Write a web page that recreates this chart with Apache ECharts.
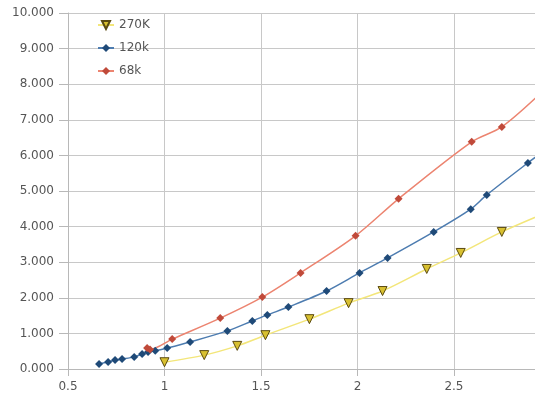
<!DOCTYPE html>
<html>
<head>
<meta charset="utf-8">
<script src="https://cdn.jsdelivr.net/npm/echarts@6/dist/echarts.min.js"></script>
<style>html,body{margin:0;padding:0;background:#fff;}#c{width:535px;height:403px;}</style>
</head>
<body>
<div id="c"></div>
<script>
var seriesNames = ['270K', '120k', '68k'];
var xTicks = [0.5, 1, 1.5, 2, 2.5];
var s270x = [1.00, 1.206, 1.377, 1.523, 1.751, 1.954, 2.130, 2.359, 2.535, 2.748, 2.96];
var s270y = [0.19, 0.39, 0.65, 0.95, 1.40, 1.85, 2.19, 2.81, 3.26, 3.85, 4.35];
var s120x = [0.661, 0.708, 0.744, 0.780, 0.843, 0.884, 0.915, 0.952, 1.014, 1.133, 1.326, 1.455, 1.533, 1.642, 1.840, 2.011, 2.156, 2.395, 2.587, 2.670, 2.883, 2.96];
var s120y = [0.14, 0.20, 0.25, 0.28, 0.34, 0.42, 0.48, 0.51, 0.59, 0.76, 1.07, 1.35, 1.52, 1.74, 2.19, 2.70, 3.12, 3.85, 4.49, 4.89, 5.79, 6.10];
var s68x = [0.910, 0.925, 1.040, 1.289, 1.507, 1.705, 1.990, 2.213, 2.592, 2.748, 2.96];
var s68y = [0.59, 0.55, 0.84, 1.43, 2.02, 2.70, 3.74, 4.78, 6.38, 6.80, 7.80];

function pairs(xs, ys) { return xs.map(function (x, i) { return [x, ys[i]]; }); }

var chart = echarts.init(document.getElementById('c'));
var txt = {color: '#555', fontSize: 12, fontFamily: 'DejaVu Sans'};
chart.setOption({
  backgroundColor: '#fff',
  animation: false,
  grid: {left: 68, right: 0, top: 13, bottom: 34, containLabel: false},
  legend: {
    orient: 'vertical', left: 92, top: 14, itemGap: 11, itemWidth: 16, itemHeight: 10,
    textStyle: {color: '#555', fontSize: 12, fontFamily: 'DejaVu Sans'},
    data: seriesNames
  },
  xAxis: {
    type: 'value', min: 0.5, max: 2.92, interval: 0.5,
    axisLine: {show: true, lineStyle: {color: '#b8b8b8'}},
    axisTick: {show: true, length: 7, lineStyle: {color: '#b8b8b8'}},
    axisLabel: Object.assign({margin: 12, showMaxLabel: false, formatter: function (v) { return String(v); }}, txt),
    splitLine: {show: true, lineStyle: {color: '#c8c8c8', width: 1}}
  },
  yAxis: {
    type: 'value', min: 0, max: 10, interval: 1,
    axisLine: {show: true, lineStyle: {color: '#b8b8b8'}},
    axisTick: {show: true, length: 9, lineStyle: {color: '#b8b8b8'}},
    axisLabel: Object.assign({margin: 14, formatter: function (v) { return v.toFixed(3); }}, txt),
    splitLine: {show: true, lineStyle: {color: '#c8c8c8', width: 1}}
  },
  series: [
    {
      name: seriesNames[0], type: 'line', smooth: 0.3, clip: true,
      symbol: 'triangle', symbolRotate: 180, symbolSize: 9,
      itemStyle: {color: '#d8c030', borderColor: '#5a4a10', borderWidth: 1},
      lineStyle: {color: '#f3e67a', width: 1.5},
      data: pairs(s270x, s270y)
    },
    {
      name: seriesNames[1], type: 'line', smooth: 0.3, clip: true,
      symbol: 'diamond', symbolSize: 8,
      itemStyle: {color: '#1f4a78'},
      lineStyle: {color: '#4d7cb0', width: 1.5},
      data: pairs(s120x, s120y)
    },
    {
      name: seriesNames[2], type: 'line', smooth: 0.3, clip: true,
      symbol: 'diamond', symbolSize: 8,
      itemStyle: {color: '#c04a3a'},
      lineStyle: {color: '#ec8470', width: 1.5},
      data: pairs(s68x, s68y)
    }
  ]
});
</script>
</body>
</html>
